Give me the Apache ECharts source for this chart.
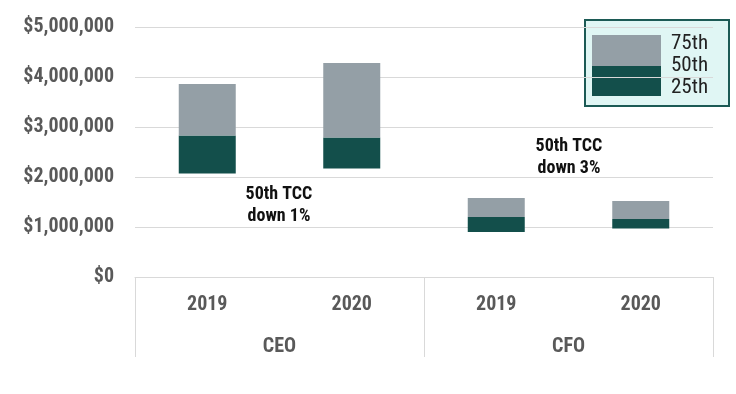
<!DOCTYPE html>
<html>
<head>
<meta charset="utf-8">
<script src="https://cdn.jsdelivr.net/npm/echarts@6/dist/echarts.min.js"></script>
<style>
html,body{margin:0;padding:0;background:#fff;}
#c{width:736px;height:394px;}
</style>
</head>
<body>
<div id="c"></div>
<script>
const years = ['2019', '2020', '2019', '2020'];
const groups = ['CEO', 'CFO'];
const p25 = [2070000, 2170000, 900000, 970000];
const p50 = [2830000, 2790000, 1200000, 1160000];
const p75 = [3860000, 4280000, 1580000, 1520000];
const legendLabels = ['75th', '50th', '25th'];
const notes = ['50th TCC\ndown 1%', '50th TCC\ndown 3%'];

const FONT = '"Roboto Condensed", "DejaVu Sans Condensed", Roboto, sans-serif';
const DARK = '#134f4b';
const GRAY = '#949fa6';
const AXIS_TXT = '#595959';

const lowerBand = p50.map((v, i) => v - p25[i]);
const upperBand = p75.map((v, i) => v - p50[i]);

const chart = echarts.init(document.getElementById('c'));
chart.setOption({
  animation: false,
  backgroundColor: '#fff',
  grid: { left: 135, right: 23, top: 27, bottom: 117 },
  xAxis: [
    {
      type: 'category',
      data: years,
      position: 'bottom',
      axisLine: { show: true, lineStyle: { color: '#d9d9d9', width: 1 } },
      axisTick: { show: false },
      axisLabel: { margin: 18, color: AXIS_TXT, fontWeight: 'bold', fontSize: 20, fontFamily: FONT }
    },
    {
      type: 'category',
      data: groups,
      position: 'bottom',
      axisLine: { show: false },
      axisTick: { show: true, length: 80, lineStyle: { color: '#d9d9d9', width: 1 } },
      axisLabel: { margin: 60, color: AXIS_TXT, fontWeight: 'bold', fontSize: 20, fontFamily: FONT }
    }
  ],
  yAxis: {
    type: 'value',
    min: 0,
    max: 5000000,
    interval: 1000000,
    axisLine: { show: false },
    axisTick: { show: false },
    splitLine: { lineStyle: { color: '#d9d9d9', width: 1 } },
    axisLabel: {
      margin: 21,
      color: AXIS_TXT,
      fontWeight: 'bold',
      fontSize: 20,
      fontFamily: FONT,
      formatter: v => '$' + v.toLocaleString('en-US')
    }
  },
  series: [
    { name: 'base', type: 'bar', stack: 's', data: p25, barWidth: 57,
      itemStyle: { color: 'rgba(0,0,0,0)' }, silent: true },
    { name: '25th-50th', type: 'bar', stack: 's', data: lowerBand, barWidth: 57,
      itemStyle: { color: DARK } },
    { name: '50th-75th', type: 'bar', stack: 's', data: upperBand, barWidth: 57,
      itemStyle: { color: GRAY } }
  ],
  graphic: [
    { type: 'rect', left: 584, top: 19, shape: { width: 144, height: 86 },
      style: { fill: '#e0f6f4', stroke: '#1c5a55', lineWidth: 2 } },
    { type: 'rect', left: 592, top: 35, shape: { width: 69, height: 31 },
      style: { fill: GRAY } },
    { type: 'rect', left: 592, top: 66, shape: { width: 69, height: 30 },
      style: { fill: DARK } },
    { type: 'text', x: 671, y: 66, style: { text: legendLabels.join('\n'), fill: '#222',
      font: '21px ' + FONT, verticalAlign: 'middle', lineHeight: 22 } },
    { type: 'text', x: 279, y: 205, style: { text: notes[0], fill: '#111', font: 'bold 18px ' + FONT,
      align: 'center', verticalAlign: 'middle', lineHeight: 22 } },
    { type: 'text', x: 569, y: 157, style: { text: notes[1], fill: '#111', font: 'bold 18px ' + FONT,
      align: 'center', verticalAlign: 'middle', lineHeight: 22 } }
  ]
});
</script>
</body>
</html>
